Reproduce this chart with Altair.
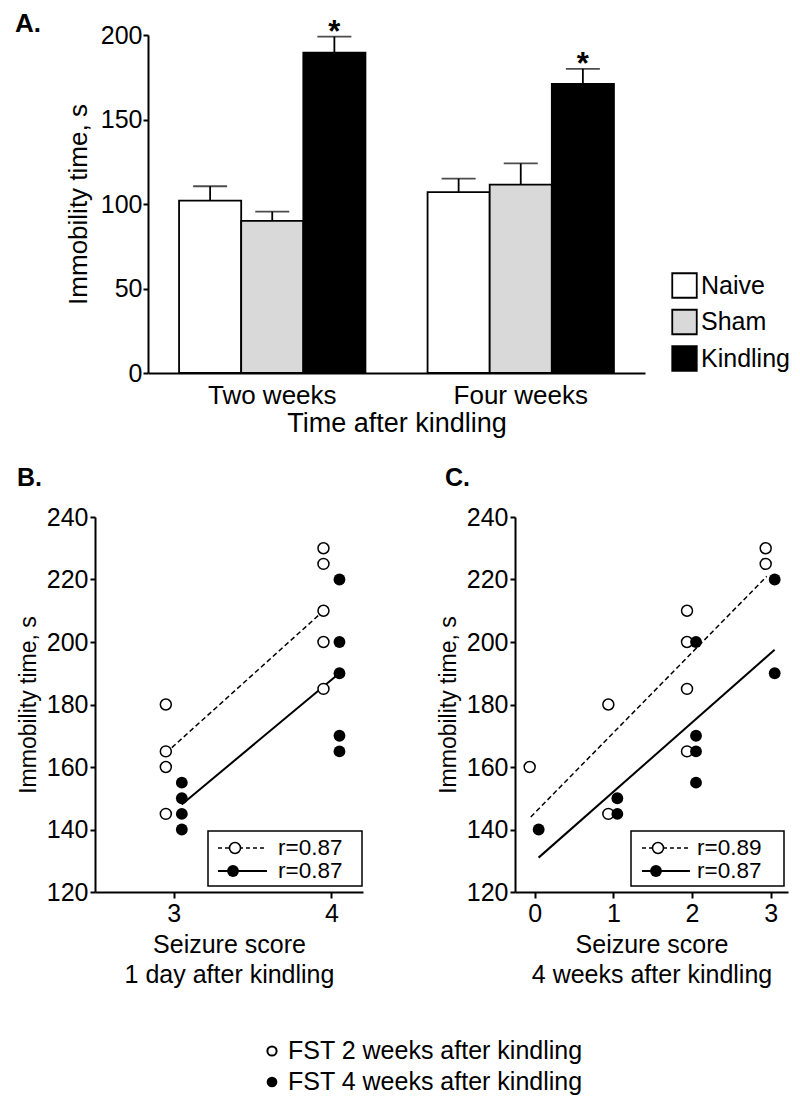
import altair as alt
import pandas as pd

FONT = "Liberation Sans, Arial, Helvetica, sans-serif"

# ---------------- Panel A data ----------------
time_points = ["Two weeks", "Four weeks"]
groups = ["Naive", "Sham", "Kindling"]
group_fill = ["#ffffff", "#d9d9d9", "#000000"]
mean_two = [102, 90, 189.5]
sem_two = [8.5, 5.5, 9.5]
mean_four = [107, 111.5, 171]
sem_four = [8, 12.5, 9]
sig_two = ["", "", "*"]
sig_four = ["", "", "*"]

# ---------------- Panel B data ----------------
b_open_score = [3, 3, 3, 3, 4, 4, 4, 4, 4]
b_open_time = [180, 165, 160, 145, 230, 225, 210, 200, 185]
b_fill_score = [3, 3, 3, 3, 4, 4, 4, 4, 4]
b_fill_time = [155, 150, 145, 140, 220, 200, 190, 170, 165]
b_dash_score = [2.95, 3.95]
b_dash_time = [164.5, 210]
b_solid_score = [3.05, 4.05]
b_solid_time = [148, 190]
b_r = ["r=0.87", "r=0.87"]

# ---------------- Panel C data ----------------
c_open_score = [0, 1, 1, 2, 2, 2, 2, 3, 3]
c_open_time = [160, 180, 145, 210, 200, 185, 165, 230, 225]
c_fill_score = [0, 1, 1, 2, 2, 2, 2, 3, 3]
c_fill_time = [140, 150, 145, 200, 170, 165, 155, 220, 190]
c_dash_score = [-0.05, 2.95]
c_dash_time = [144, 221]
c_solid_score = [0.05, 3.05]
c_solid_time = [131, 197.5]
c_r = ["r=0.89", "r=0.87"]

series_labels = ["FST 2 weeks after kindling", "FST 4 weeks after kindling"]


def one(**kw):
    return pd.DataFrame({k: [v] for k, v in kw.items()})


# ---------------- Panel A ----------------
rows = []
for t, ms, ss, sg in ((time_points[0], mean_two, sem_two, sig_two),
                      (time_points[1], mean_four, sem_four, sig_four)):
    for g, m, s, k in zip(groups, ms, ss, sg):
        rows.append({"time": t, "group": g, "mean": m, "upper": m + s, "sig": k})
dfA = pd.DataFrame(rows)

xA = alt.X("time:N", sort=time_points, title="Time after kindling",
           scale=alt.Scale(paddingInner=0.25, paddingOuter=0.125),
           axis=alt.Axis(labelAngle=0, ticks=False, tickSize=0, labelPadding=9,
                         labelFontSize=26, titleFontSize=27, titlePadding=2, domainWidth=2))
xoA = alt.XOffset("group:N", sort=groups, scale=alt.Scale(paddingInner=0, paddingOuter=0))


def yA(field):
    return alt.Y(f"{field}:Q", title="Immobility time, s",
                 scale=alt.Scale(domain=[0, 200], nice=False),
                 axis=alt.Axis(values=[0, 50, 100, 150, 200], tickSize=5, tickWidth=2,
                               labelPadding=1, labelFontSize=25, titleFontSize=26,
                               titlePadding=9, domainWidth=2))


bars = alt.Chart(dfA).mark_bar(stroke="black", strokeWidth=1.8).encode(
    x=xA, xOffset=xoA, y=yA("mean"),
    color=alt.Color("group:N", sort=groups,
                    scale=alt.Scale(domain=groups, range=group_fill),
                    legend=alt.Legend(title=None, orient="none", legendX=576, legendY=237,
                                      symbolType="square", symbolSize=600,
                                      symbolStrokeColor="black", symbolStrokeWidth=1.8,
                                      symbolOpacity=1, labelFontSize=25, labelOffset=3,
                                      rowPadding=3.5, padding=0)))
err = alt.Chart(dfA).mark_rule(color="black", strokeWidth=1.8).encode(
    x=xA, xOffset=xoA, y=yA("mean"), y2="upper:Q")
caps = alt.Chart(dfA).mark_tick(color="black", thickness=1.8, size=34, orient="horizontal").encode(
    x=xA, xOffset=xoA, y=yA("upper"))
stars = alt.Chart(dfA).mark_text(fontSize=31, fontWeight="bold", baseline="alphabetic",
                                 dy=5, color="black").encode(
    x=xA, xOffset=xoA, y=yA("upper"), text="sig:N")
labA = alt.Chart(one(label="A.")).mark_text(
    align="left", baseline="alphabetic", fontSize=26, fontWeight="bold", color="black").encode(
    x=alt.value(-133), y=alt.value(-3), text="label:N")

panelA = alt.layer(bars, err, caps, stars, labA).properties(width=497, height=338)
spacer = alt.Chart(one(k=1)).mark_point(opacity=0).properties(width=33, height=338)
row1 = alt.hconcat(spacer, panelA, spacing=20, bounds="flush")


# ---------------- scatter panels ----------------
def scatter(letter, o_s, o_t, f_s, f_t, d_s, d_t, s_s, s_t, rlab, xdom, xvals, xtitle,
            width, jit_o, jit_f, lab_dx, box, line_x, circ_x, text_x, bottom_legend):
    def X():
        return alt.X("score:Q", scale=alt.Scale(domain=xdom, nice=False, zero=False),
                     axis=alt.Axis(values=xvals, title=xtitle, format="d", tickSize=6,
                                   tickWidth=2, labelPadding=3, labelFontSize=25,
                                   titleFontSize=25, titleLineHeight=30, titlePadding=6,
                                   domainWidth=2))

    def Y():
        return alt.Y("time:Q", scale=alt.Scale(domain=[120, 240], nice=False, zero=False),
                     axis=alt.Axis(values=list(range(120, 241, 20)), title="Immobility time, s",
                                   tickSize=5, tickWidth=2, labelPadding=2, labelFontSize=25,
                                   titleFontSize=23, titlePadding=6, domainWidth=2))

    dash = alt.Chart(pd.DataFrame({"score": d_s, "time": d_t})).mark_line(
        color="black", strokeWidth=1.5, strokeDash=[5, 3]).encode(x=X(), y=Y())
    solid = alt.Chart(pd.DataFrame({"score": s_s, "time": s_t})).mark_line(
        color="black", strokeWidth=2).encode(x=X(), y=Y())
    opn = alt.Chart(pd.DataFrame({"score": o_s, "time": o_t})).mark_circle(
        size=120, fill="white", stroke="black", strokeWidth=1.5, opacity=1,
        xOffset=jit_o).encode(x=X(), y=Y())
    fil = alt.Chart(pd.DataFrame({"score": f_s, "time": f_t})).mark_circle(
        size=140, color="black", opacity=1, xOffset=jit_f).encode(x=X(), y=Y())

    lab = alt.Chart(one(label=letter)).mark_text(
        align="left", baseline="alphabetic", fontSize=25, fontWeight="bold", color="black").encode(
        x=alt.value(lab_dx), y=alt.value(-31), text="label:N")

    boxm = alt.Chart(one(k=1)).mark_rect(fill="white", stroke="black", strokeWidth=1.5).encode(
        x=alt.value(box[0]), x2=alt.value(box[1]), y=alt.value(314), y2=alt.value(369))
    r1, r2 = 331, 354
    l1 = alt.Chart(one(k=1)).mark_rule(color="black", strokeWidth=1.5, strokeDash=[4, 3]).encode(
        x=alt.value(line_x[0]), x2=alt.value(line_x[1]), y=alt.value(r1))
    l2 = alt.Chart(one(k=1)).mark_rule(color="black", strokeWidth=2).encode(
        x=alt.value(line_x[0]), x2=alt.value(line_x[1]), y=alt.value(r2))
    c1 = alt.Chart(one(k=1)).mark_circle(size=120, fill="white", stroke="black",
                                         strokeWidth=1.5, opacity=1).encode(
        x=alt.value(circ_x), y=alt.value(r1))
    c2 = alt.Chart(one(k=1)).mark_circle(size=140, color="black", opacity=1).encode(
        x=alt.value(circ_x - 2), y=alt.value(r2))
    t1 = alt.Chart(one(label=rlab[0])).mark_text(align="left", baseline="middle", fontSize=22.5,
                                                 color="black").encode(
        x=alt.value(text_x), y=alt.value(r1), text="label:N")
    t2 = alt.Chart(one(label=rlab[1])).mark_text(align="left", baseline="middle", fontSize=22.5,
                                                 color="black").encode(
        x=alt.value(text_x), y=alt.value(r2), text="label:N")

    layers = [dash, solid, opn, fil, lab, boxm, l1, l2, c1, c2, t1, t2]

    if bottom_legend:
        bl_o = alt.Chart(one(k=1)).mark_circle(size=85, fill="white", stroke="black",
                                               strokeWidth=2, opacity=1).encode(
            x=alt.value(177), y=alt.value(534))
        bl_f = alt.Chart(one(k=1)).mark_circle(size=115, color="black", opacity=1).encode(
            x=alt.value(177), y=alt.value(565))
        bt1 = alt.Chart(one(label=series_labels[0])).mark_text(
            align="left", baseline="middle", fontSize=25, color="black").encode(
            x=alt.value(193), y=alt.value(534), text="label:N")
        bt2 = alt.Chart(one(label=series_labels[1])).mark_text(
            align="left", baseline="middle", fontSize=25, color="black").encode(
            x=alt.value(193), y=alt.value(565), text="label:N")
        layers += [bl_o, bl_f, bt1, bt2]

    return alt.layer(*layers).properties(width=width, height=375)


panelB = scatter("B.", b_open_score, b_open_time, b_fill_score, b_fill_time,
                 b_dash_score, b_dash_time, b_solid_score, b_solid_time, b_r,
                 [2.5, 4.2], [3, 4], ["Seizure score", "1 day after kindling"],
                 268, -8, 8, -78, (113, 267), (123, 172), 140, 183, True)
panelC = scatter("C.", c_open_score, c_open_time, c_fill_score, c_fill_time,
                 c_dash_score, c_dash_time, c_solid_score, c_solid_time, c_r,
                 [-0.25, 3.22], [0, 1, 2, 3], ["Seizure score", "4 weeks after kindling"],
                 273, -5, 4, -70, (116, 269), (127, 175), 143, 182, False)

row2 = alt.hconcat(panelB, panelC, spacing=152, bounds="flush")

chart = alt.vconcat(row1, row2, spacing=30).properties(
    padding={"left": 7, "top": 3, "right": 0, "bottom": 0}
).configure_view(stroke=None).configure_axis(
    labelFont=FONT, titleFont=FONT, labelColor="black", titleColor="black",
    domainColor="black", tickColor="black", grid=False, titleFontWeight="normal"
).configure_text(font=FONT).configure_legend(labelFont=FONT, labelColor="black")

chart.save("out.html", embed_options={"renderer": "svg", "actions": False})
